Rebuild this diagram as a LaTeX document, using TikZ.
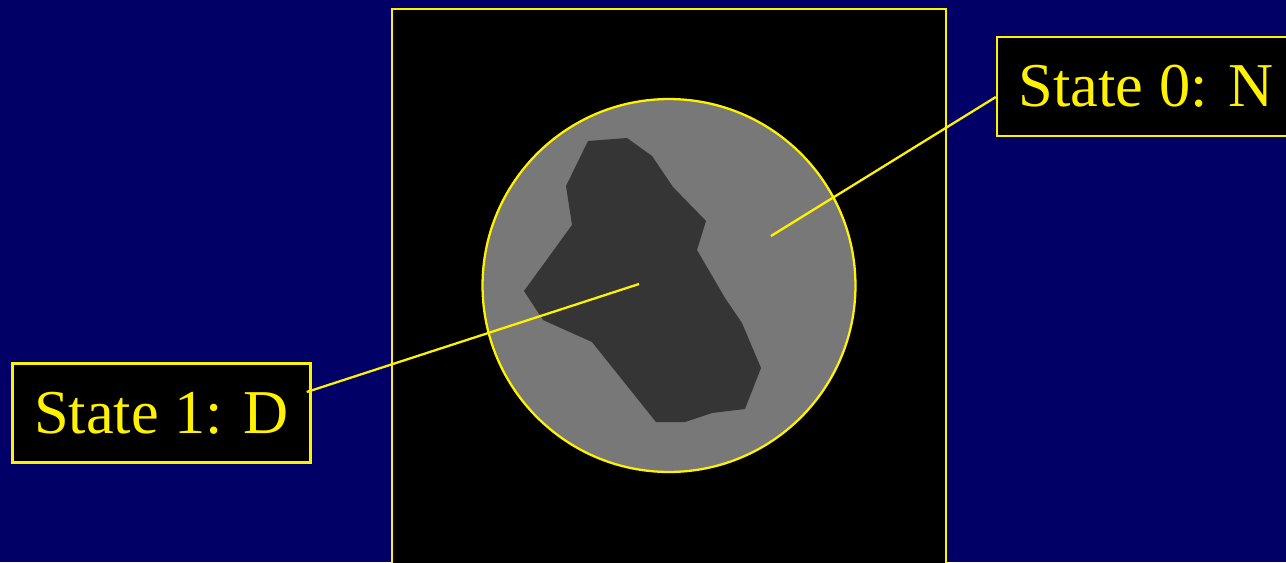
\documentclass[tikz,border=0pt]{standalone}
\usepackage{fontspec}
\setmainfont{Liberation Serif}
\usepackage{xcolor}

\definecolor{slidebg}{RGB}{0,0,102}
\definecolor{normalgray}{RGB}{120,120,120}
\definecolor{lesiondark}{RGB}{53,53,53}

\begin{document}
\begin{tikzpicture}[x=0.02cm,y=-0.02cm,
    screen/.style={draw=yellow,line width=1.6pt,fill=black},
    organ/.style={circle,draw=yellow,line width=1.3pt,fill=normalgray,
        minimum size=7.46cm,inner sep=0pt},
    statebox/.style={draw=yellow,line width=1.4pt,fill=black,text=yellow,
        minimum width=5.96cm,minimum height=1.98cm,inner sep=0pt,
        font=\fontsize{35.5}{40}\selectfont},
    pointer/.style={draw=yellow,line width=1.3pt}
]
    \path[use as bounding box,fill=slidebg] (0,0) rectangle (1286,562);
    \draw[screen] (392,9) rectangle (946,580);

    \node[organ] (organ) at (669,285.5) {};
    \fill[lesiondark] (588,141) -- (627,138) -- (652,156) -- (673,187)
        -- (706,221) -- (697,250) -- (725,298) -- (742,323) -- (761,368)
        -- (745,409) -- (712,413) -- (685,422) -- (656,422) -- (592,342)
        -- (543,320) -- (524,291) -- (572,225) -- (566,186) -- cycle;
    \coordinate (normal) at (771,236);
    \coordinate (lesion) at (639,284);

    \node[statebox] (state0) at (1146,86.5) {State 0: N};
    \node[statebox] (state1) at (161.5,413) {State 1: D};
    \draw[pointer] ([yshift=-0.21cm]state0.west) -- (normal);
    \draw[pointer] ([xshift=-0.1cm,yshift=0.42cm]state1.east) -- (lesion);
\end{tikzpicture}
\end{document}
